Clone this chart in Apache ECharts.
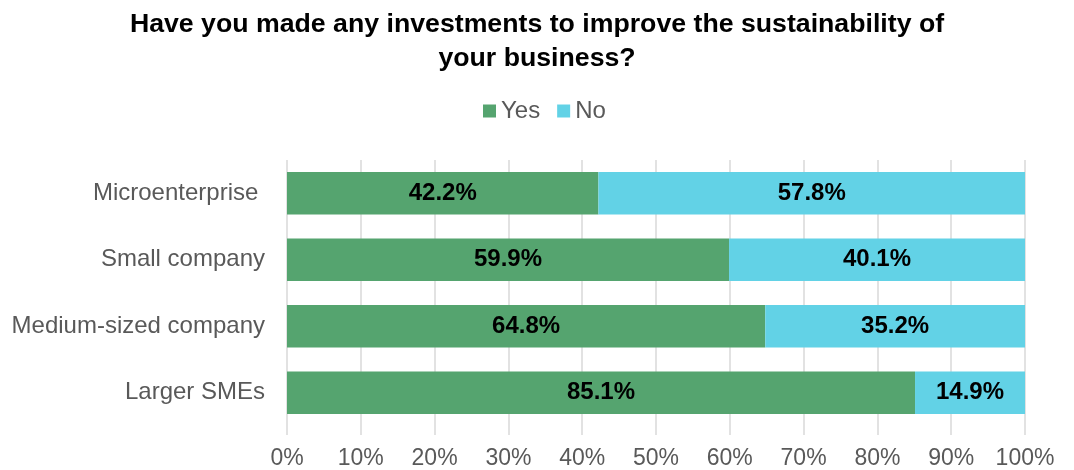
<!DOCTYPE html>
<html>
<head>
<meta charset="utf-8">
<script src="https://cdn.jsdelivr.net/npm/echarts@6/dist/echarts.min.js"></script>
<style>
  html, body { margin: 0; padding: 0; background: #ffffff; }
  #chart { width: 1074px; height: 470px; }
</style>
</head>
<body>
<div id="chart"></div>
<script>
const categories = ['Microenterprise ', 'Small company', 'Medium-sized company', 'Larger SMEs']
const yesValues = [42.2, 59.9, 64.8, 85.1]
const noValues = [57.8, 40.1, 35.2, 14.9]
const xTicks = [0, 10, 20, 30, 40, 50, 60, 70, 80, 90, 100]

const font = "'Liberation Sans', Arial, sans-serif"
const textColor = '#595959'
const gridColor = '#d9d9d9'

const chart = echarts.init(document.getElementById('chart'))

const labelStyle = {
  show: true,
  position: 'inside',
  formatter: p => p.value.toFixed(1) + '%',
  color: '#000000',
  fontFamily: font,
  fontSize: 24,
  fontWeight: 'bold',
}

chart.setOption({
  backgroundColor: '#ffffff',
  animation: false,
  title: {
    text: 'Have you made any investments to improve the sustainability of\nyour business?',
    left: 'center',
    top: 3,
    textStyle: {
      fontFamily: font,
      fontSize: 26.7,
      fontWeight: 'bold',
      color: '#000000',
      lineHeight: 34,
    },
  },
  legend: {
    data: ['Yes', 'No'],
    top: 94,
    left: 478,
    itemWidth: 13,
    itemHeight: 13,
    itemGap: 17,
    icon: 'rect',
    textStyle: { fontFamily: font, fontSize: 24, color: textColor },
  },
  grid: { left: 287, right: 49, top: 160, bottom: 40 },
  xAxis: {
    type: 'value',
    min: 0,
    max: 100,
    interval: 10,
    axisLabel: {
      formatter: v => (xTicks.includes(v) ? v + '%' : ''),
      fontFamily: font,
      fontSize: 23,
      color: textColor,
      margin: 21,
    },
    axisLine: { show: false },
    // gridlines run a little past the plot bottom
    axisTick: { show: true, inside: false, length: 9, lineStyle: { color: gridColor, width: 1.5 } },
    splitLine: { lineStyle: { color: gridColor, width: 1.5 } },
  },
  yAxis: {
    type: 'category',
    inverse: true,
    data: categories,
    axisLabel: {
      fontFamily: font,
      fontSize: 24,
      color: textColor,
      margin: 22,
    },
    axisLine: { show: false },
    axisTick: { show: false },
  },
  series: [
    {
      name: 'Yes',
      type: 'bar',
      stack: 'total',
      data: yesValues,
      barCategoryGap: '36%',
      itemStyle: { color: '#55a46f' },
      label: labelStyle,
    },
    {
      name: 'No',
      type: 'bar',
      stack: 'total',
      data: noValues,
      barCategoryGap: '36%',
      itemStyle: { color: '#62d2e6' },
      label: labelStyle,
    },
  ],
})
</script>
</body>
</html>
